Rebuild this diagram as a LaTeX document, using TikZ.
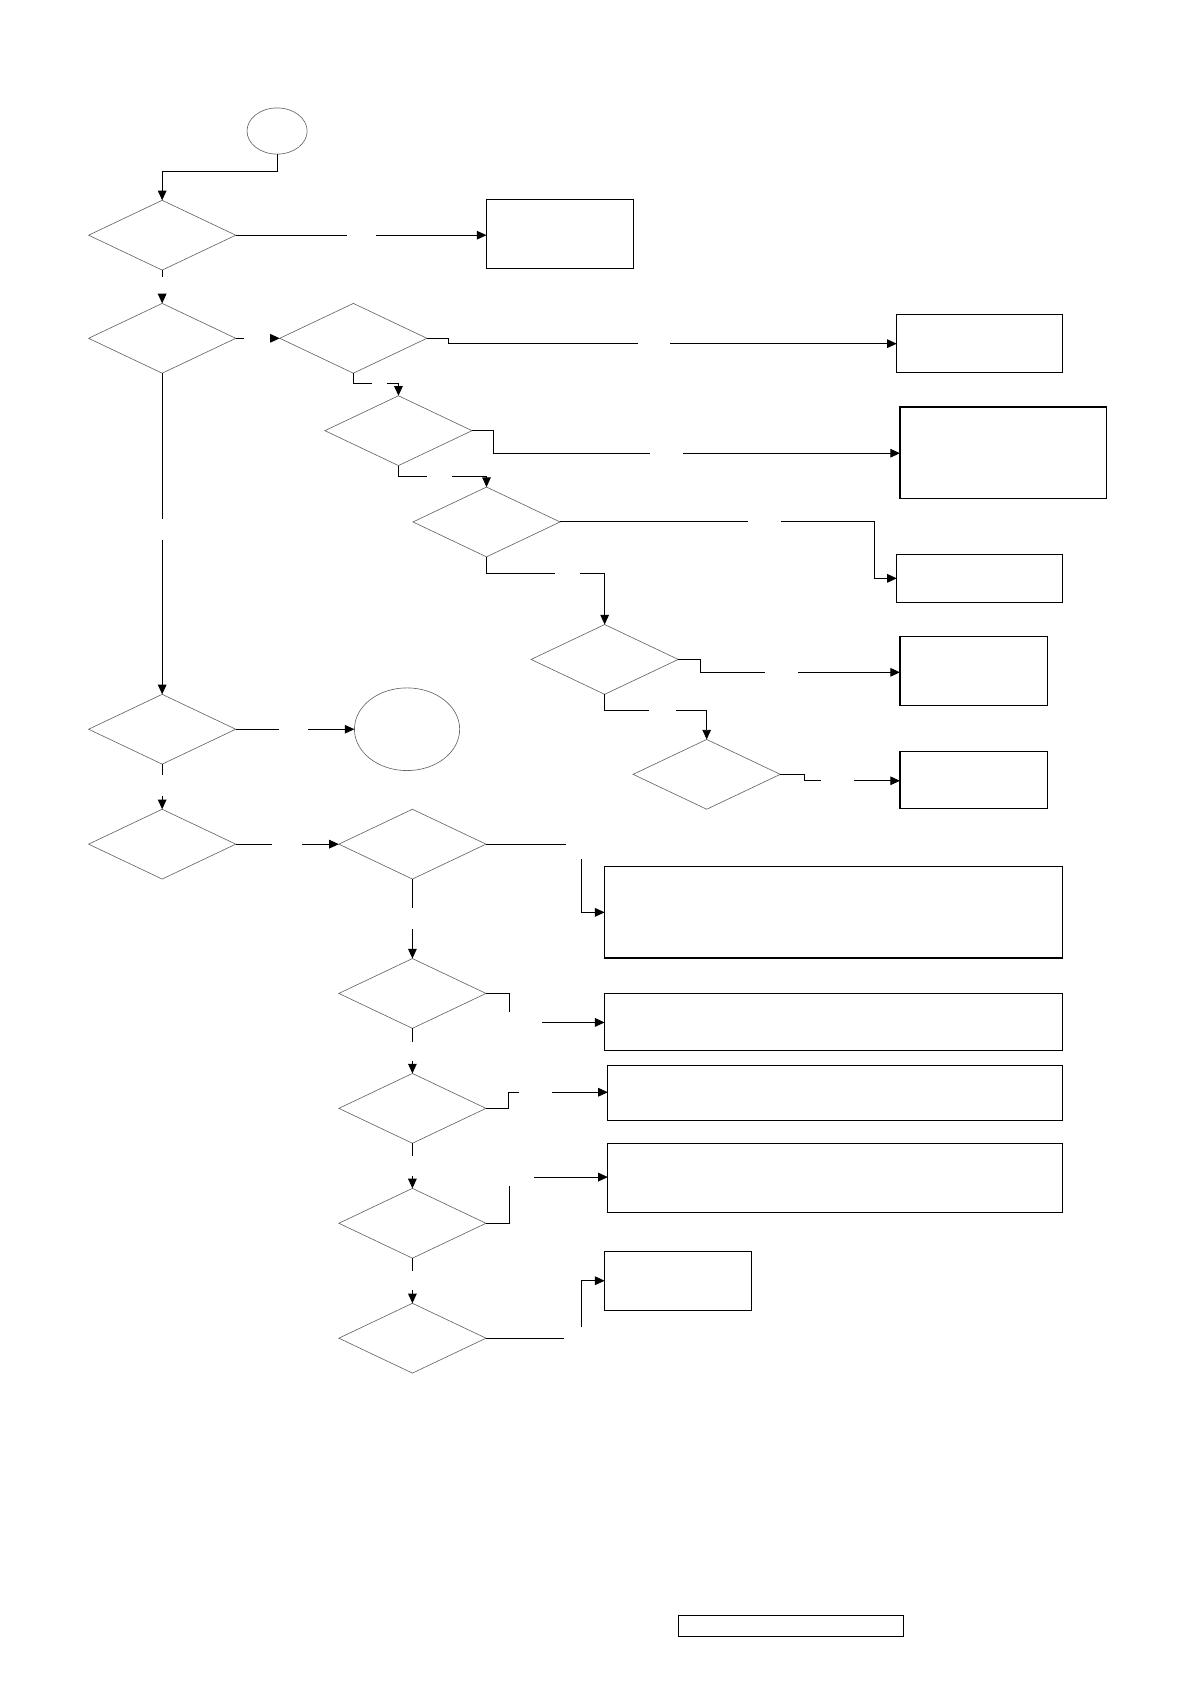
\documentclass[tikz,border=0pt]{standalone}
\usetikzlibrary{shapes.geometric,arrows.meta}
\begin{document}
\begin{tikzpicture}[x=1pt,y=-1pt,
  dia/.style={diamond, draw=black!60, line width=0.6pt, minimum width=137pt, minimum height=65pt, aspect=2.1, inner sep=0pt, outer sep=0pt},
  box/.style={rectangle, draw=black, line width=1.1pt, inner sep=0pt, outer sep=0pt},
  circ/.style={ellipse, draw=black!60, line width=0.6pt, inner sep=0pt, outer sep=0pt},
  con/.style={line width=0.9pt},
  arr/.style={con, -{Triangle[length=9pt,width=8pt]}}]
\useasboundingbox (0,0) rectangle (1108,1568);
% start / end circles
\node[circ, minimum width=56pt, minimum height=43pt] (c1) at (258,122) {};
\node[circ, minimum width=98pt, minimum height=77pt] (c2) at (379,679) {};
% diamonds
\node[dia] (d1) at (151,219) {};
\node[dia] (d2) at (151,315) {};
\node[dia] (d3) at (329,315) {};
\node[dia] (d4) at (371,401) {};
\node[dia] (d5) at (453,486) {};
\node[dia] (d6) at (563,614) {};
\node[dia] (d7) at (658,721) {};
\node[dia] (d8) at (151,679) {};
\node[dia] (d9) at (151,786) {};
\node[dia] (d10) at (384,786) {};
\node[dia] (d11) at (384,925) {};
\node[dia] (d12) at (384,1032) {};
\node[dia] (d13) at (384,1139) {};
\node[dia] (d14) at (384,1246) {};
% boxes
\node[box, minimum width=137pt, minimum height=64pt] (r1) at (521.5,218) {};
\node[box, minimum width=154pt, minimum height=54pt] (r2) at (912,320) {};
\node[box, minimum width=192pt, minimum height=85pt] (r3) at (934,421.5) {};
\node[box, minimum width=154pt, minimum height=45pt] (r4) at (912,538.5) {};
\node[box, minimum width=137pt, minimum height=64pt] (r5) at (906.5,625) {};
\node[box, minimum width=137pt, minimum height=53pt] (r6) at (906.5,726.5) {};
\node[box, minimum width=426pt, minimum height=85pt] (r7) at (776,849.5) {};
\node[box, minimum width=426pt, minimum height=53pt] (r8) at (776,951.5) {};
\node[box, minimum width=423pt, minimum height=51pt] (r9) at (777.5,1017.5) {};
\node[box, minimum width=423pt, minimum height=64pt] (r10) at (777.5,1097) {};
\node[box, minimum width=137pt, minimum height=55pt] (r11) at (631.5,1192.5) {};
\node[box, minimum width=209pt, minimum height=20pt] (foot) at (736.5,1514) {};
% free ends of broken connectors
\coordinate (g1a) at (323,219); \coordinate (g1b) at (350,219);
\coordinate (g2a) at (151,258); \coordinate (g2b) at (151,275);
\coordinate (g3a) at (227,315); \coordinate (g3b) at (251,315);
\coordinate (g4a) at (594,320); \coordinate (g4b) at (624,320);
\coordinate (g5a) at (346,357); \coordinate (g5b) at (360,357);
\coordinate (g6a) at (605,422); \coordinate (g6b) at (636,422);
\coordinate (g7a) at (398,444); \coordinate (g7b) at (421,444);
\coordinate (g8a) at (696,486); \coordinate (g8b) at (727,486);
\coordinate (g9a) at (517,534); \coordinate (g9b) at (540,534);
\coordinate (g10a) at (712,626); \coordinate (g10b) at (743,626);
\coordinate (g11a) at (604,662); \coordinate (g11b) at (629,662);
\coordinate (g12a) at (764,727); \coordinate (g12b) at (795,727);
\coordinate (g13a) at (151,483); \coordinate (g13b) at (151,503);
\coordinate (g14a) at (260,679); \coordinate (g14b) at (287,679);
\coordinate (g15a) at (151,722); \coordinate (g15b) at (151,741);
\coordinate (g16a) at (253,786); \coordinate (g16b) at (281,786);
\coordinate (g17a) at (527,786); \coordinate (g17b) at (541,800);
\coordinate (g18a) at (384,845); \coordinate (g18b) at (384,865);
\coordinate (g19a) at (474,942); \coordinate (g19b) at (505,952);
\coordinate (g20a) at (384,970); \coordinate (g20b) at (384,988);
\coordinate (g21a) at (483,1017); \coordinate (g21b) at (514,1017);
\coordinate (g22a) at (384,1076); \coordinate (g22b) at (384,1095);
\coordinate (g23a) at (474,1104); \coordinate (g23b) at (497,1096);
\coordinate (g24a) at (384,1183); \coordinate (g24b) at (384,1201);
\coordinate (g25a) at (525,1246); \coordinate (g25b) at (541,1236);
% connectors
\draw[arr] (c1.south) -- ++(0,16) -| (d1.north);
\draw[con] (d1.east) -- (g1a); \draw[arr] (g1b) -- (r1.west |- g1b);
\draw[con] (d1.south) -- (g2a); \draw[arr] (g2b) -- (d2.north);
\draw[con] (d2.east) -- (g3a); \draw[arr] (g3b) -- (d3.west);
\draw[con] (d3.east) -- ++(20,0) |- (g4a); \draw[arr] (g4b) -- (r2.west |- g4b);
\draw[con] (d3.south) |- (g5a); \draw[arr] (g5b) -| (d4.north);
\draw[con] (d4.east) -- ++(20,0) |- (g6a); \draw[arr] (g6b) -- (r3.west |- g6b);
\draw[con] (d4.south) |- (g7a); \draw[arr] (g7b) -| (d5.north);
\draw[con] (d5.east) -- (g8a); \draw[arr] (g8b) -- ++(87,0) |- (r4.west);
\draw[con] (d5.south) |- (g9a); \draw[arr] (g9b) -| (d6.north);
\draw[con] (d6.east) -- ++(21,0) |- (g10a); \draw[arr] (g10b) -- (r5.west |- g10b);
\draw[con] (d6.south) |- (g11a); \draw[arr] (g11b) -| (d7.north);
\draw[con] (d7.east) -- ++(23,0) |- (g12a); \draw[arr] (g12b) -- (r6.west |- g12b);
\draw[con] (d2.south) -- (g13a); \draw[arr] (g13b) -- (d8.north);
\draw[con] (d8.east) -- (g14a); \draw[arr] (g14b) -- (c2.west);
\draw[con] (d8.south) -- (g15a); \draw[arr] (g15b) -- (d9.north);
\draw[con] (d9.east) -- (g16a); \draw[arr] (g16b) -- (d10.west);
\draw[con] (d10.east) -- (g17a); \draw[arr] (g17b) |- (r7.west);
\draw[con] (d10.south) -- (g18a); \draw[arr] (g18b) -- (d11.north);
\draw[con] (d11.east) -| (g19a); \draw[arr] (g19b) -- (r8.west |- g19b);
\draw[con] (d11.south) -- (g20a); \draw[arr] (g20b) -- (d12.north);
\draw[con] (d12.east) -- ++(21,0) |- (g21a); \draw[arr] (g21b) -- (r9.west |- g21b);
\draw[con] (d12.south) -- (g22a); \draw[arr] (g22b) -- (d13.north);
\draw[con] (d13.east) -| (g23a); \draw[arr] (g23b) -- (r10.west |- g23b);
\draw[con] (d13.south) -- (g24a); \draw[arr] (g24b) -- (d14.north);
\draw[con] (d14.east) -- (g25a); \draw[arr] (g25b) |- (r11.west);
\end{tikzpicture}
\end{document}
